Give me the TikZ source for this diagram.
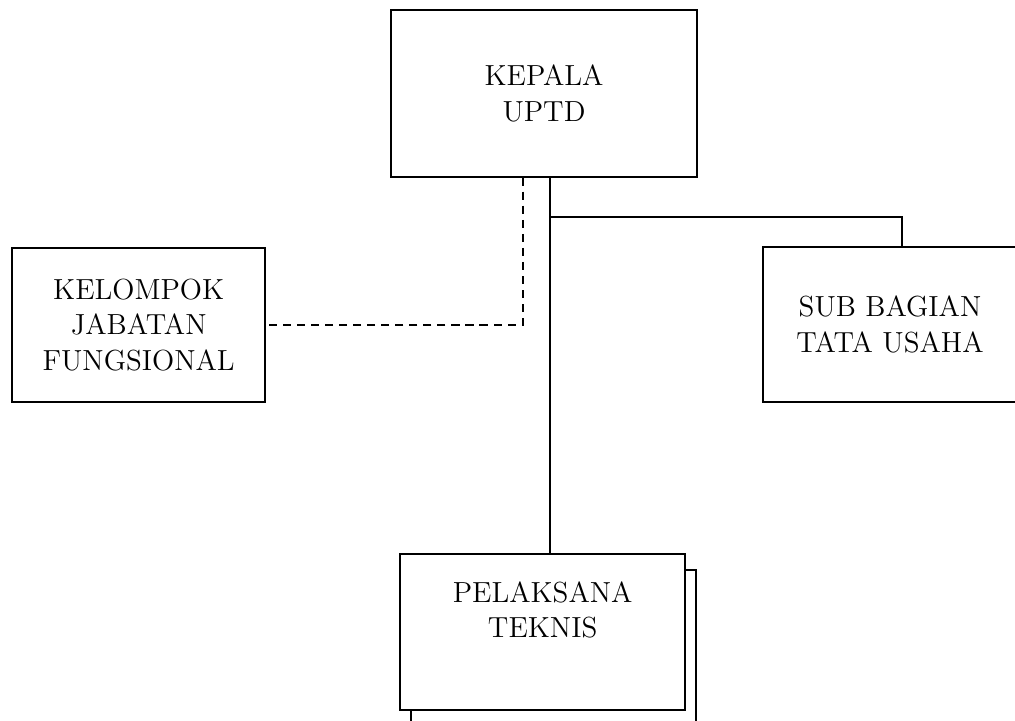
\documentclass[tikz,border=0pt]{standalone}
\usetikzlibrary{positioning,calc}
\tikzset{
    unit box/.style={draw,thick,rectangle,fill=white,align=center,inner sep=0pt},
    line/.style={semithick},
    dashline/.style={semithick,dash pattern=on 3.5pt off 2.5pt},
}
\tikzstyle{every node}=[font=\fontsize{12.4}{15.3}\selectfont]

\begin{document}
\begin{tikzpicture}[scale=1]
        \useasboundingbox (0,0) rectangle (15.225,10.8);
        \clip (0,0) rectangle (15.225,10.8);
        \node[unit box, minimum width=4.59cm, minimum height=2.5cm]
        (kepala) at (8.16,9.4) {KEPALA\\UPTD};
        \node[unit box, minimum width=3.8cm, minimum height=2.31cm]
        (kelompok) at (2.08,5.925) {KELOMPOK\\JABATAN\\FUNGSIONAL};
        \node[unit box, minimum width=3.81cm, minimum height=2.33cm]
        (subbagian) at (13.35,5.93) {SUB BAGIAN\\TATA USAHA};
        % stacked box behind
        \node[unit box, minimum width=4.28cm, minimum height=2.34cm]
        (teknisback) at (8.30,1.08) {};
        \node[unit box, minimum width=4.28cm, minimum height=2.34cm,
        label={[below=0.3cm, align=center]north:PELAKSANA\\TEKNIS}]
        (teknis) at (8.14,1.32) {};
        \coordinate (trunk) at (8.25,0 |- kepala.south);
        \coordinate (elbow) at (13.53,7.545);
        \draw[line] (trunk) -- (trunk |- teknis.north);
        \draw[line] (trunk |- elbow) -- (elbow) -- (elbow |- subbagian.north);
        \draw[dashline] (7.845,0 |- kepala.south) |- (kelompok.east);
    \end{tikzpicture}
\end{document}
